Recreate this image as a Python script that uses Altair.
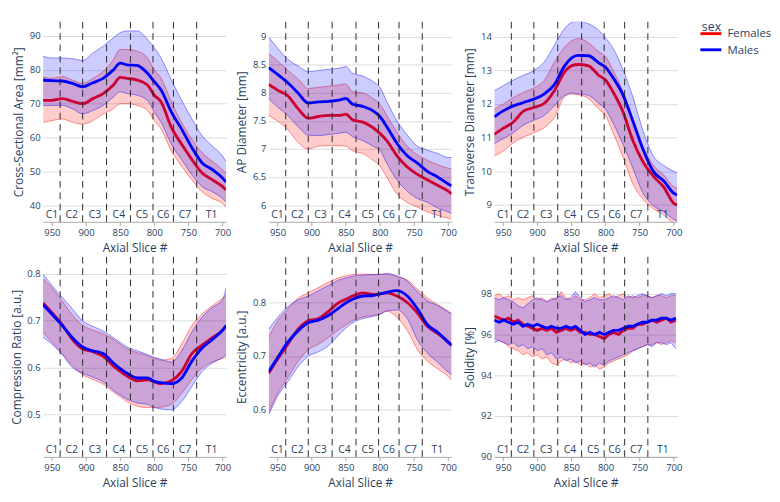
import altair as alt
import pandas as pd

FONT = "Open Sans"
TXT = "#2a3f5f"

# ---- shared x positions (axial slice #) ----
X = [963, 950, 935, 920, 905, 890, 875, 860, 850, 840, 825, 810, 800, 790, 775, 760, 745, 730, 715, 700, 695]
X6 = [963, 956, 949, 942, 935, 928, 921, 914, 907, 900, 893, 886, 879, 872, 865, 858, 851, 844, 837, 830,
      823, 816, 809, 802, 795, 788, 781, 774, 767, 760, 753, 746, 739, 732, 725, 718, 711, 704, 697]

# ---- Cross-Sectional Area [mm²] ----
CSA_F_MEAN = [71, 71, 71.5, 70.7, 70, 71.5, 73, 75.5, 77.8, 77.5, 77, 75.5, 72.5, 70.5, 63, 58, 53.5, 49.5, 47.5, 45.5, 44.5]
CSA_F_LO = [64.5, 65, 65.5, 64.5, 64, 65, 67, 68.5, 70, 70, 69.5, 68, 65, 62.5, 56, 51.5, 47.5, 44, 42, 40.5, 39.5]
CSA_F_HI = [78, 77.5, 78, 77, 76, 77.5, 79.5, 83, 86, 86, 85.5, 83.5, 80, 77.5, 70.5, 64.5, 59.5, 55.5, 53, 50.5, 49.5]
CSA_M_MEAN = [77, 76.8, 76.7, 76, 75, 76.2, 77.5, 80, 82, 81.5, 81.3, 79, 76.5, 74, 67.5, 62.5, 57, 52.5, 50.5, 48, 46.8]
CSA_M_LO = [69.5, 69.5, 69.5, 68.5, 67, 68, 69.5, 72, 73.5, 73, 72.5, 71, 67.5, 64.5, 58, 53.5, 49, 45.5, 44, 42, 41]
CSA_M_HI = [84, 83.5, 83.5, 83.3, 82.8, 85, 87, 89.5, 91, 91.5, 91.5, 89, 86.5, 83.5, 77, 71, 65.5, 60.5, 57.5, 54.5, 53]

# ---- AP Diameter [mm] ----
AP_F_MEAN = [8.15, 8.05, 7.95, 7.72, 7.55, 7.58, 7.6, 7.6, 7.62, 7.52, 7.48, 7.38, 7.28, 7.15, 6.88, 6.68, 6.55, 6.45, 6.35, 6.25, 6.2]
AP_F_LO = [7.6, 7.5, 7.35, 7.12, 7.0, 7.05, 7.06, 7.06, 7.05, 6.97, 6.92, 6.8, 6.7, 6.5, 6.2, 6.05, 5.97, 5.88, 5.82, 5.77, 5.75]
AP_F_HI = [8.7, 8.57, 8.4, 8.25, 8.08, 8.1, 8.12, 8.14, 8.16, 8.02, 8.0, 7.9, 7.8, 7.6, 7.3, 7.05, 6.9, 6.8, 6.72, 6.66, 6.65]
AP_M_MEAN = [8.45, 8.33, 8.18, 8.0, 7.82, 7.84, 7.85, 7.87, 7.9, 7.8, 7.76, 7.68, 7.58, 7.4, 7.1, 6.88, 6.75, 6.6, 6.5, 6.38, 6.35]
AP_M_LO = [7.9, 7.75, 7.6, 7.4, 7.25, 7.24, 7.26, 7.28, 7.3, 7.22, 7.15, 7.05, 6.98, 6.75, 6.45, 6.25, 6.12, 6.05, 5.95, 5.88, 5.85]
AP_M_HI = [9.0, 8.8, 8.6, 8.48, 8.38, 8.4, 8.42, 8.44, 8.47, 8.35, 8.3, 8.2, 8.1, 7.85, 7.5, 7.25, 7.05, 6.98, 6.92, 6.85, 6.85]

# ---- Transverse Diameter [mm] ----
TD_F_MEAN = [11.1, 11.28, 11.47, 11.8, 11.9, 12.02, 12.4, 12.96, 13.14, 13.18, 13.14, 12.86, 12.72, 12.4, 11.8, 10.92, 10.28, 9.86, 9.54, 9.05, 9.0]
TD_F_LO = [10.46, 10.6, 10.85, 11.02, 11.15, 11.3, 11.6, 12.22, 12.3, 12.28, 12.17, 11.85, 11.66, 11.2, 10.46, 9.63, 9.17, 8.89, 8.7, 8.47, 8.45]
TD_F_HI = [11.85, 12.0, 12.2, 12.35, 12.48, 12.7, 13.25, 13.7, 13.88, 13.95, 13.83, 13.56, 13.42, 13.05, 12.4, 11.57, 10.74, 10.18, 9.9, 9.54, 9.5]
TD_M_MEAN = [11.62, 11.8, 11.95, 12.05, 12.15, 12.3, 12.58, 13.14, 13.37, 13.45, 13.44, 13.23, 13.1, 12.82, 12.3, 11.5, 10.65, 10.0, 9.72, 9.35, 9.3]
TD_M_LO = [10.83, 10.97, 11.15, 11.38, 11.52, 11.66, 11.95, 12.26, 12.33, 12.31, 12.26, 12.03, 11.85, 11.48, 10.83, 10.1, 9.35, 8.98, 8.8, 8.57, 8.52]
TD_M_HI = [12.4, 12.55, 12.72, 12.86, 13.0, 13.25, 13.75, 14.25, 14.43, 14.47, 14.39, 14.2, 13.97, 13.7, 13.05, 12.22, 11.2, 10.46, 10.18, 10.0, 9.95]

# ---- Compression Ratio [a.u.] ----
CR_F_MEAN = [0.738, 0.717, 0.692, 0.660, 0.640, 0.634, 0.624, 0.604, 0.592, 0.582, 0.572, 0.574, 0.570, 0.566, 0.572, 0.592, 0.630, 0.648, 0.664, 0.680, 0.688]
CR_F_LO = [0.675, 0.655, 0.630, 0.605, 0.585, 0.575, 0.565, 0.548, 0.538, 0.528, 0.518, 0.515, 0.515, 0.516, 0.522, 0.545, 0.575, 0.600, 0.612, 0.620, 0.622]
CR_F_HI = [0.790, 0.770, 0.742, 0.712, 0.690, 0.680, 0.672, 0.660, 0.650, 0.640, 0.632, 0.625, 0.620, 0.616, 0.620, 0.650, 0.690, 0.715, 0.732, 0.748, 0.755]
CR_M_MEAN = [0.734, 0.714, 0.690, 0.664, 0.644, 0.636, 0.630, 0.610, 0.598, 0.588, 0.578, 0.578, 0.571, 0.568, 0.566, 0.578, 0.614, 0.642, 0.660, 0.680, 0.690]
CR_M_LO = [0.665, 0.650, 0.628, 0.600, 0.588, 0.580, 0.570, 0.552, 0.542, 0.533, 0.525, 0.522, 0.515, 0.512, 0.510, 0.528, 0.560, 0.592, 0.610, 0.622, 0.628]
CR_M_HI = [0.800, 0.775, 0.750, 0.725, 0.700, 0.688, 0.678, 0.664, 0.654, 0.644, 0.636, 0.628, 0.622, 0.618, 0.612, 0.636, 0.676, 0.708, 0.728, 0.745, 0.770]

# ---- Eccentricity [a.u.] ----
EC_F_MEAN = [0.668, 0.694, 0.722, 0.750, 0.766, 0.770, 0.784, 0.800, 0.806, 0.812, 0.818, 0.815, 0.816, 0.818, 0.812, 0.800, 0.780, 0.755, 0.742, 0.726, 0.720]
EC_F_LO = [0.595, 0.630, 0.660, 0.690, 0.712, 0.722, 0.735, 0.750, 0.758, 0.766, 0.773, 0.776, 0.778, 0.784, 0.772, 0.748, 0.712, 0.690, 0.676, 0.662, 0.655]
EC_F_HI = [0.735, 0.765, 0.788, 0.808, 0.818, 0.828, 0.838, 0.846, 0.850, 0.852, 0.853, 0.852, 0.853, 0.853, 0.848, 0.842, 0.825, 0.808, 0.796, 0.784, 0.780]
EC_M_MEAN = [0.671, 0.697, 0.726, 0.747, 0.762, 0.767, 0.776, 0.790, 0.799, 0.806, 0.812, 0.813, 0.816, 0.819, 0.822, 0.812, 0.788, 0.758, 0.744, 0.726, 0.720]
EC_M_LO = [0.590, 0.625, 0.652, 0.680, 0.700, 0.708, 0.720, 0.740, 0.752, 0.762, 0.770, 0.774, 0.778, 0.784, 0.786, 0.770, 0.730, 0.705, 0.688, 0.670, 0.665]
EC_M_HI = [0.750, 0.772, 0.792, 0.805, 0.812, 0.822, 0.832, 0.842, 0.846, 0.849, 0.851, 0.852, 0.852, 0.854, 0.850, 0.840, 0.820, 0.803, 0.794, 0.782, 0.778]

# ---- Solidity [%] ----
SO_F_MEAN = [96.9, 96.8, 96.7, 96.8, 96.6, 96.7, 96.5, 96.4, 96.3, 96.2, 96.3, 96.2, 96.3, 96.1, 96.2, 96.3, 96.2, 96.3, 96.1, 96.1,
             96.0, 96.0, 95.9, 95.8, 96.0, 96.1, 96.0, 96.2, 96.3, 96.3, 96.5, 96.5, 96.6, 96.7, 96.6, 96.7, 96.8, 96.6, 96.7]
SO_F_LO = [95.8, 95.7, 95.6, 95.4, 95.3, 95.2, 95.0, 95.1, 94.9, 95.0, 94.8, 94.9, 94.6, 94.5, 94.7, 94.8, 94.6, 94.7, 94.5, 94.6,
           94.4, 94.5, 94.3, 94.4, 94.6, 94.7, 94.8, 94.9, 95.0, 95.2, 95.3, 95.4, 95.5, 95.5, 95.6, 95.5, 95.6, 95.7, 95.6]
SO_F_HI = [97.9, 98.0, 97.8, 97.9, 97.7, 97.8, 97.7, 97.8, 97.9, 97.7, 97.8, 97.6, 97.8, 97.7, 98.1, 97.8, 97.7, 97.9, 97.7, 97.7,
           97.8, 98.0, 97.8, 97.9, 98.0, 97.8, 97.9, 98.0, 97.8, 97.9, 97.8, 97.9, 97.9, 97.8, 97.9, 97.9, 97.8, 97.9, 97.9]
SO_M_MEAN = [96.7, 96.6, 96.7, 96.6, 96.5, 96.6, 96.4, 96.5, 96.4, 96.5, 96.4, 96.3, 96.4, 96.3, 96.3, 96.4, 96.3, 96.4, 96.2, 96.0,
             96.1, 96.0, 96.1, 96.0, 96.1, 96.2, 96.2, 96.3, 96.4, 96.4, 96.5, 96.6, 96.6, 96.7, 96.7, 96.8, 96.8, 96.7, 96.8]
SO_M_LO = [95.6, 95.7, 95.6, 95.5, 95.6, 95.4, 95.5, 95.3, 95.4, 95.2, 95.3, 95.0, 95.1, 94.8, 94.9, 94.7, 94.8, 94.6, 94.7, 94.5,
           94.6, 94.4, 94.6, 94.5, 94.7, 94.8, 94.9, 95.0, 95.1, 95.2, 95.3, 95.4, 95.5, 95.4, 95.6, 95.6, 95.5, 95.6, 95.3]
SO_M_HI = [97.8, 97.7, 97.8, 97.7, 97.6, 97.4, 97.3, 97.5, 97.7, 97.8, 97.7, 97.6, 97.7, 97.8, 97.9, 97.7, 97.8, 98.1, 97.8, 97.6,
           97.7, 97.8, 97.7, 97.7, 97.8, 97.9, 97.8, 97.7, 97.9, 97.8, 97.9, 98.0, 97.9, 97.8, 97.9, 98.0, 97.9, 98.0, 98.0]

# ---- vertebral levels ----
BOUNDS = [938, 905, 870, 835, 802, 772, 738]
VERT_LABELS = ["C1", "C2", "C3", "C4", "C5", "C6", "C7", "T1"]
VERT_POS = [950, 921, 887, 852, 818, 787, 755, 716]
XTICKS = [950, 900, 850, 800, 750, 700]

SEXES = ["Females", "Males"]
SEX_COLORS = ["#ff0000", "#0000ff"]

W, H = 193, 211

COLOR = alt.Color(
    "sex:N",
    scale=alt.Scale(domain=SEXES, range=SEX_COLORS),
    legend=alt.Legend(title="sex", orient="right", offset=20, symbolType="M-1.4,0H1.4",
                      symbolStrokeWidth=3, symbolSize=250, rowPadding=1, titlePadding=-10,
                      labelOffset=8),
)


def panel(xs, fem, mal, ytitle, ydomain, yticks, interp):
    rows = []
    for sex, arrs in (("Females", fem), ("Males", mal)):
        for i, xv in enumerate(xs):
            rows.append({"x": xv, "sex": sex, "mean": arrs[0][i], "lo": arrs[1][i], "hi": arrs[2][i]})
    df = pd.DataFrame(rows)

    xscale = alt.Scale(domain=[695, 963], reverse=True, nice=False, zero=False)
    xaxis = alt.Axis(values=XTICKS, title="Axial Slice #", grid=False, domain=True,
                     domainColor="#a6a6a6", ticks=True, tickColor="#a6a6a6", tickSize=4,
                     labelPadding=2, titlePadding=5, labelFlush=False, labelOverlap=False)
    xenc = alt.X("x:Q", scale=xscale, axis=xaxis)
    yscale = alt.Scale(domain=ydomain, nice=False, zero=False)
    yaxis = alt.Axis(values=yticks, format=".3~g", title=ytitle, grid=True, gridColor="#dadada",
                     domain=False, ticks=False, labelPadding=3, titlePadding=4, labelFlush=False)

    layers = []
    for sex, col in zip(SEXES, SEX_COLORS):
        b = alt.Chart(df).transform_filter(alt.datum.sex == sex)
        layers.append(
            b.mark_area(color=col, opacity=0.2, interpolate=interp, clip=True).encode(
                x=xenc, y=alt.Y("lo:Q", scale=yscale, axis=yaxis), y2="hi:Q")
        )
        for fld in ("lo", "hi"):
            layers.append(
                b.mark_line(color=col, strokeWidth=0.8, opacity=0.55, interpolate=interp, clip=True).encode(
                    x=xenc, y=alt.Y(f"{fld}:Q", scale=yscale, axis=yaxis))
            )
        layers.append(
            b.mark_line(strokeWidth=3, interpolate=interp, clip=True).encode(
                x=xenc, y=alt.Y("mean:Q", scale=yscale, axis=yaxis), color=COLOR)
        )

    rules = alt.Chart(pd.DataFrame({"x": BOUNDS})).mark_rule(
        color="#222222", strokeWidth=1, strokeDash=[7, 5]).encode(x=xenc)
    labels = alt.Chart(pd.DataFrame({"x": VERT_POS, "lab": VERT_LABELS})).mark_text(
        font=FONT, fontSize=11, color=TXT, baseline="alphabetic").encode(
        x=xenc, y=alt.value(H - 4), text="lab:N")

    return alt.layer(*layers, rules, labels).properties(width=W, height=H)


p1 = panel(X, (CSA_F_MEAN, CSA_F_LO, CSA_F_HI), (CSA_M_MEAN, CSA_M_LO, CSA_M_HI),
           "Cross-Sectional Area [mm²]", [35.1, 94.2], [40, 50, 60, 70, 80, 90], "monotone")
p2 = panel(X, (AP_F_MEAN, AP_F_LO, AP_F_HI), (AP_M_MEAN, AP_M_LO, AP_M_HI),
           "AP Diameter [mm]", [5.705, 9.266], [6, 6.5, 7, 7.5, 8, 8.5, 9], "monotone")
p3 = panel(X, (TD_F_MEAN, TD_F_LO, TD_F_HI), (TD_M_MEAN, TD_M_LO, TD_M_HI),
           "Transverse Diameter [mm]", [8.5, 14.45], [9, 10, 11, 12, 13, 14], "monotone")
p4 = panel(X, (CR_F_MEAN, CR_F_LO, CR_F_HI), (CR_M_MEAN, CR_M_LO, CR_M_HI),
           "Compression Ratio [a.u.]", [0.41, 0.836], [0.5, 0.6, 0.7, 0.8], "monotone")
p5 = panel(X, (EC_F_MEAN, EC_F_LO, EC_F_HI), (EC_M_MEAN, EC_M_LO, EC_M_HI),
           "Eccentricity [a.u.]", [0.512, 0.885], [0.6, 0.7, 0.8], "monotone")
p6 = panel(X6, (SO_F_MEAN, SO_F_LO, SO_F_HI), (SO_M_MEAN, SO_M_LO, SO_M_HI),
           "Solidity [%]", [90, 99.8], [90, 92, 94, 96, 98], "linear")

chart = alt.concat(p1, p2, p3, p4, p5, p6, columns=3,
                   spacing={"row": 37, "column": 45}, bounds="flush").properties(
    padding={"left": 2, "top": 0, "right": 0, "bottom": 0}
).configure_view(stroke="transparent").configure_axis(
    labelFont=FONT, titleFont=FONT, labelColor=TXT, titleColor=TXT,
    labelFontSize=10, titleFontSize=12.5, titleFontWeight="normal"
).configure_legend(
    labelFont=FONT, titleFont=FONT, labelColor=TXT, titleColor=TXT,
    labelFontSize=12, titleFontSize=13, titleFontWeight="normal"
)

chart.save("out.html", embed_options={"renderer": "svg", "actions": False})
